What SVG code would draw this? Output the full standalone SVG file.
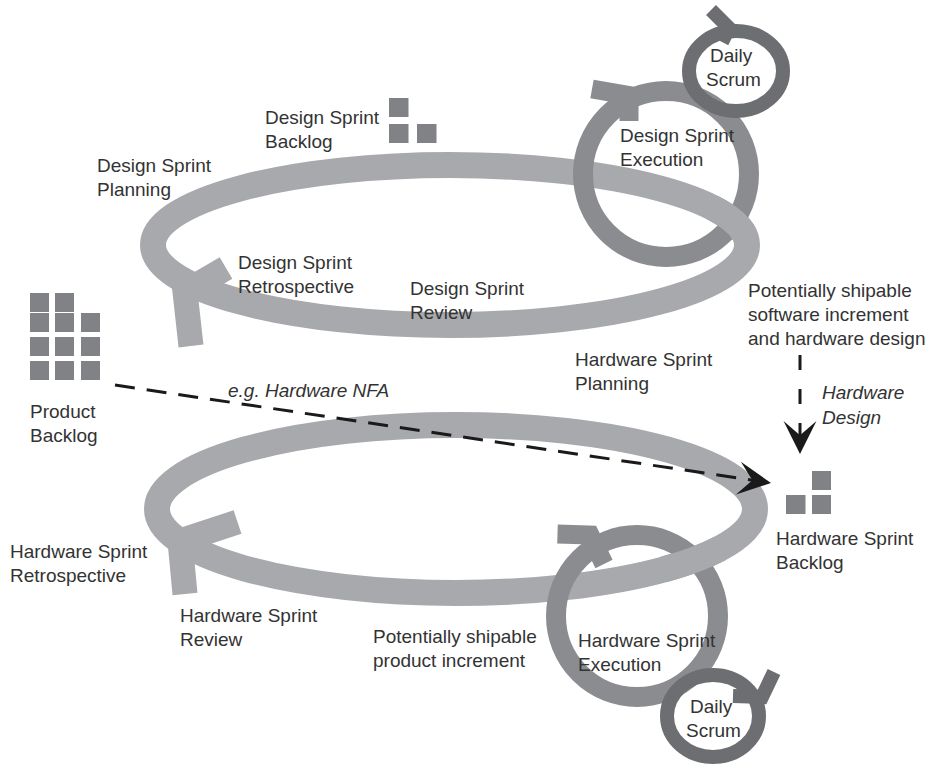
<svg xmlns="http://www.w3.org/2000/svg" width="931" height="767" viewBox="0 0 931 767">
<defs>
<style>
.loop{fill:none;stroke:#a7a9ac;stroke-width:26}
.loophead{fill:none;stroke:#a7a9ac;stroke-width:25;stroke-linejoin:miter;stroke-linecap:butt}
.exec{fill:none;stroke:#8b8c8f;stroke-width:20}
.exechead{fill:none;stroke:#8b8c8f;stroke-width:19;stroke-linejoin:miter;stroke-linecap:butt}
.daily{fill:none;stroke:#6d6e71;stroke-width:14}
.dailyhead{fill:none;stroke:#6d6e71;stroke-width:14;stroke-linejoin:miter;stroke-linecap:butt}
.sq{fill:#808285}
.t{font-family:"Liberation Sans",Arial,Helvetica,sans-serif;font-size:19px;fill:#333333}
.i{font-style:italic}
.dash{fill:none;stroke:#1a1a1a;stroke-width:3}
</style>
<marker id="ah" markerUnits="userSpaceOnUse" markerWidth="40" markerHeight="40" viewBox="-32 -16 34 32" refX="0" refY="0" orient="auto">
<path d="M0,0 L-28,-14 L-16,0 L-28,14 Z" fill="#1a1a1a"/>
</marker>
</defs>
<rect width="931" height="767" fill="#ffffff"/>

<g id="design-loop">
<ellipse class="loop" cx="450" cy="245" rx="297" ry="80"/>
<polyline class="loophead" points="226,268 185,292 191,346"/>
</g>

<g id="design-execution">
<circle class="exec" cx="666" cy="174" r="83"/>
<polyline class="exechead" points="592,89 629,95.5 629,121"/>
<path class="loop" d="M712.2,207.5 A297,80 0 0,1 744.1,233.9"/>
</g>

<g id="design-daily-scrum">
<ellipse class="daily" cx="736" cy="71" rx="47" ry="40"/>
<polyline class="dailyhead" points="711,10 729,28 722,42"/>
<text class="t" x="710" y="62">Daily</text>
<text class="t" x="706" y="86">Scrum</text>
</g>

<g id="hardware-loop">
<ellipse class="loop" cx="456" cy="509" rx="299" ry="84"/>
<polyline class="loophead" points="237.5,522 180,541 185,594"/>
</g>

<g id="hardware-execution">
<circle class="exec" cx="637" cy="616" r="81"/>
<polyline class="exechead" points="557.5,534 590,535 604,564"/>
<path class="loop" d="M720,548.4 A299,84 0 0,1 663.7,569.4"/>
</g>

<g id="hardware-daily-scrum">
<ellipse class="daily" cx="713" cy="716" rx="46" ry="41"/>
<polyline class="dailyhead" points="733,696 762,697 774,672"/>
<text class="t" x="690" y="713">Daily</text>
<text class="t" x="686" y="737">Scrum</text>
</g>

<g id="product-backlog">
<rect class="sq" x="30" y="293" width="19" height="19"/>
<rect class="sq" x="55" y="293" width="19" height="19"/>
<rect class="sq" x="30" y="313" width="19" height="19"/>
<rect class="sq" x="55" y="313" width="19" height="19"/>
<rect class="sq" x="81" y="313" width="19" height="19"/>
<rect class="sq" x="30" y="337" width="19" height="19"/>
<rect class="sq" x="55" y="337" width="19" height="19"/>
<rect class="sq" x="81" y="337" width="19" height="19"/>
<rect class="sq" x="30" y="361" width="19" height="19"/>
<rect class="sq" x="55" y="361" width="19" height="19"/>
<rect class="sq" x="81" y="361" width="19" height="19"/>
<text class="t" x="30" y="418">Product</text>
<text class="t" x="30" y="442">Backlog</text>
</g>

<g id="design-sprint-backlog">
<rect class="sq" x="389" y="98" width="19.5" height="19"/>
<rect class="sq" x="389" y="124" width="19.5" height="19"/>
<rect class="sq" x="417" y="124" width="19.5" height="19"/>
<text class="t" x="265" y="124">Design Sprint</text>
<text class="t" x="265" y="148">Backlog</text>
</g>

<g id="hardware-sprint-backlog">
<rect class="sq" x="812" y="471" width="19" height="19"/>
<rect class="sq" x="786" y="495" width="19.5" height="19"/>
<rect class="sq" x="812" y="495" width="19" height="19"/>
<text class="t" x="776" y="545">Hardware Sprint</text>
<text class="t" x="776" y="569">Backlog</text>
</g>

<g id="labels">
<text class="t" x="97" y="172">Design Sprint</text>
<text class="t" x="97" y="196">Planning</text>
<text class="t" x="620" y="142">Design Sprint</text>
<text class="t" x="620" y="166">Execution</text>
<text class="t" x="238" y="269">Design Sprint</text>
<text class="t" x="238" y="293">Retrospective</text>
<text class="t" x="410" y="295">Design Sprint</text>
<text class="t" x="410" y="319">Review</text>
<text class="t" x="748" y="297">Potentially shipable</text>
<text class="t" x="748" y="321">software increment</text>
<text class="t" x="748" y="345">and hardware design</text>
<text class="t" x="575" y="366">Hardware Sprint</text>
<text class="t" x="575" y="390">Planning</text>
<text class="t" x="10" y="558">Hardware Sprint</text>
<text class="t" x="10" y="582">Retrospective</text>
<text class="t" x="180" y="622">Hardware Sprint</text>
<text class="t" x="180" y="646">Review</text>
<text class="t" x="373" y="643">Potentially shipable</text>
<text class="t" x="373" y="667">product increment</text>
<text class="t" x="578" y="647">Hardware Sprint</text>
<text class="t" x="578" y="671">Execution</text>
</g>

<g id="connectors">
<line class="dash" x1="115" y1="385" x2="771" y2="483" stroke-dasharray="20 12" marker-end="url(#ah)"/>
<text class="t i" x="228" y="397">e.g. Hardware NFA</text>
<line class="dash" x1="800" y1="355" x2="800" y2="454" stroke-dasharray="15 19" marker-end="url(#ah)"/>
<text class="t i" x="822" y="399">Hardware</text>
<text class="t i" x="822" y="424">Design</text>
</g>
</svg>
